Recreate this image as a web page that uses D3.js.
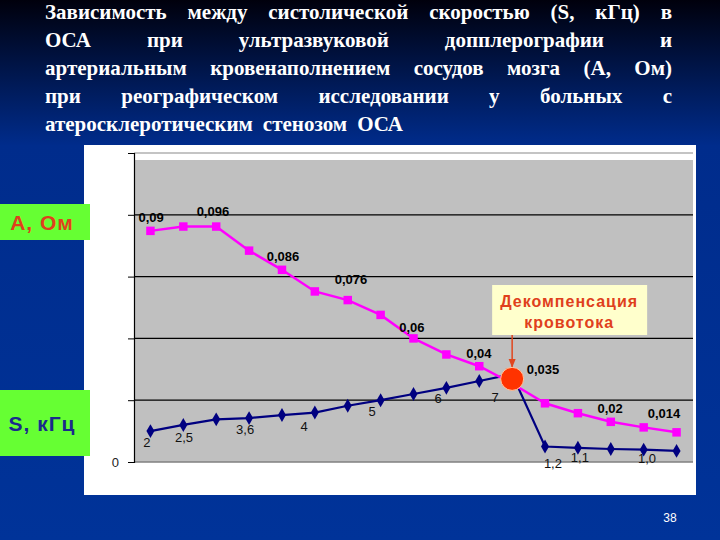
<!DOCTYPE html>
<html>
<head>
<meta charset="utf-8">
<script src="https://cdn.jsdelivr.net/npm/d3@7/dist/d3.min.js"></script>
<style>
	html, body { margin: 0; padding: 0; background: #003399; }
	svg { display: block; }
	.title text { font-family: 'Liberation Serif', 'DejaVu Serif', 'Times New Roman', Times, 'Noto Serif', serif; font-weight: bold; font-size: 21px; }
</style>
</head>
<body>
<div id="chart"></div>
<script>
var titleLines = [
	'Зависимость между систолической скоростью (S, кГц) в',
	'ОСА при ультразвуковой допплерографии и',
	'артериальным кровенаполнением сосудов мозга (А, Ом)',
	'при реографическом исследовании у больных с',
	'атеросклеротическим стенозом ОСА'
];

var categories = ['1', '2', '3', '4', '5', '6', '7', '8', '9', '10', '11', '12', '13', '14', '15', '16', '17'];

// А, Ом (magenta) and S, кГц (navy) in grid units
var arterialA = [3.74, 3.81, 3.81, 3.42, 3.11, 2.76, 2.62, 2.38, 2.0, 1.74, 1.55, 1.27, 0.95, 0.79, 0.65, 0.56, 0.48];
var velocityS = [0.50, 0.60, 0.69, 0.71, 0.76, 0.80, 0.91, 1.00, 1.10, 1.20, 1.31, 1.42, 0.25, 0.23, 0.21, 0.20, 0.18];

// data labels: [point index, value, text]
var labelsA = [
	[0.02, 3.96, '0,09'], [1.9, 4.06, '0,096'], [4.03, 3.32, '0,086'], [6.1, 2.96, '0,076'],
	[7.95, 2.17, '0,06'], [9.99, 1.76, '0,04'], [11.94, 1.5, '0,035'], [13.98, 0.87, '0,02'],
	[15.62, 0.78, '0,014']
];
var labelsS = [
	[-0.11, 0.31, '2'], [1.02, 0.4, '2,5'], [2.88, 0.52, '3,6'], [4.67, 0.58, '4'],
	[6.74, 0.81, '5'], [8.75, 1.02, '6'], [10.48, 1.05, '7'], [12.24, -0.02, '1,2'],
	[13.06, 0.08, '1,1'], [15.1, 0.06, '1,0']
];

var crisisIndex = 11;
var calloutLines = ['Декомпенсация', 'кровотока'];
var seriesNames = ['А, Ом', 'S, кГц'];
var pageNumber = '38';

function justifyLine(g, text, x0, x1, y, last) {
	var words = text.split(' ');
	var nodes = words.map(w => g.append('text').attr('y', y).text(w));
	var widths = nodes.map(n => n.node().getComputedTextLength());
	var gap = last ? 10 : (x1 - x0 - d3.sum(widths)) / (words.length - 1);
	var cx = x0;
	nodes.forEach((n, i) => { n.attr('x', cx); cx += widths[i] + gap; });
}

function drawChart() {
	var width = 720,
	    height = 540,
	    plot = {left: 134, right: 693, top: 153, bottom: 462};

	var svg = d3.select('#chart').append('svg')
		.attr('width', width)
		.attr('height', height);

	var defs = svg.append('defs');
	var grad = defs.append('linearGradient').attr('id', 'bg')
		.attr('x1', 0).attr('y1', 0).attr('x2', 0).attr('y2', 1);
	grad.append('stop').attr('offset', '0%').attr('stop-color', '#00000c');
	grad.append('stop').attr('offset', '12%').attr('stop-color', '#001446');
	grad.append('stop').attr('offset', '27%').attr('stop-color', '#002c8c');
	grad.append('stop').attr('offset', '100%').attr('stop-color', '#003399');

	defs.append('marker').attr('id', 'arrow')
		.attr('viewBox', '0 0 10 10').attr('refX', 9).attr('refY', 5)
		.attr('markerWidth', 6).attr('markerHeight', 6).attr('orient', 'auto')
		.append('path').attr('d', 'M0,1L10,5L0,9z').attr('fill', '#e0461e');

	svg.append('rect').attr('width', width).attr('height', height).attr('fill', 'url(#bg)');

	// title, justified like the slide
	var title = svg.append('g').attr('class', 'title').attr('fill', '#fff');
	titleLines.forEach((line, i) => {
		justifyLine(title, line, 45, 672, 19 + i * 28, i === titleLines.length - 1);
	});

	// chart panel
	svg.append('rect').attr('x', 84).attr('y', 145).attr('width', 612).attr('height', 350).attr('fill', '#fff');
	svg.append('rect')
		.attr('x', plot.left).attr('y', 160)
		.attr('width', plot.right - plot.left).attr('height', plot.bottom - 160)
		.attr('fill', '#c0c0c0');

	var x = d3.scalePoint().domain(categories).range([plot.left, plot.right]).padding(0.5);
	var xAt = d3.scaleLinear().domain([0, categories.length - 1])
		.range([x(categories[0]), x(categories[categories.length - 1])]);
	var y = d3.scaleLinear().domain([0, 5]).range([plot.bottom, plot.top]);

	// gridlines
	svg.append('g').selectAll('line').data(y.ticks(5).filter(d => d > 0))
		.enter().append('line')
		.attr('x1', plot.left).attr('x2', plot.right)
		.attr('y1', d => y(d)).attr('y2', d => y(d))
		.attr('stroke', d => d === 5 ? '#8a8a8a' : '#000')
		.attr('stroke-width', 1.2);

	svg.append('line')
		.attr('x1', plot.left).attr('x2', plot.right)
		.attr('y1', plot.bottom).attr('y2', plot.bottom)
		.attr('stroke', '#808080').attr('stroke-width', 1.5);

	var yAxis = svg.append('g')
		.attr('transform', `translate(${plot.left},0)`)
		.call(d3.axisLeft(y).ticks(5).tickSize(6).tickPadding(9).tickFormat(d => d === 0 ? '0' : ''));
	yAxis.select('.domain').attr('stroke', '#000').attr('stroke-width', 1.2);
	yAxis.selectAll('.tick line').attr('stroke', '#000');
	yAxis.selectAll('.tick text')
		.style('font-family', 'Arial, "Liberation Sans", sans-serif')
		.style('font-size', '13px').attr('fill', '#222');

	var line = d3.line().x((d, i) => x(categories[i])).y(d => y(d));

	// S series
	svg.append('path').datum(velocityS)
		.attr('d', line).attr('fill', 'none')
		.attr('stroke', '#000080').attr('stroke-width', 2.2);
	svg.append('g').selectAll('path').data(velocityS)
		.enter().append('path')
		.attr('transform', (d, i) => `translate(${x(categories[i])},${y(d)})`)
		.attr('d', d3.symbol().type(d3.symbolDiamond).size(56))
		.attr('fill', '#000080');

	// A series
	svg.append('path').datum(arterialA)
		.attr('d', line).attr('fill', 'none')
		.attr('stroke', '#ff00ff').attr('stroke-width', 2.5);
	svg.append('g').selectAll('path').data(arterialA)
		.enter().append('path')
		.attr('transform', (d, i) => `translate(${x(categories[i])},${y(d)})`)
		.attr('d', d3.symbol().type(d3.symbolSquare).size(72))
		.attr('fill', '#ff00ff');

	// data labels
	svg.append('g').selectAll('text').data(labelsA)
		.enter().append('text')
		.attr('x', d => xAt(d[0])).attr('y', d => y(d[1]))
		.attr('text-anchor', 'middle').attr('dominant-baseline', 'central')
		.style('font-family', 'Arial, "Liberation Sans", sans-serif')
		.style('font-size', '13px').style('font-weight', 'bold')
		.attr('fill', '#000')
		.text(d => d[2]);
	svg.append('g').selectAll('text').data(labelsS)
		.enter().append('text')
		.attr('x', d => xAt(d[0])).attr('y', d => y(d[1]))
		.attr('text-anchor', 'middle').attr('dominant-baseline', 'central')
		.style('font-family', 'Arial, "Liberation Sans", sans-serif')
		.style('font-size', '13px')
		.attr('fill', '#111')
		.text(d => d[2]);

	// decompensation point and callout
	var cx = x(categories[crisisIndex]),
	    cy = y((arterialA[crisisIndex] + velocityS[crisisIndex]) / 2);

	svg.append('rect')
		.attr('x', cx - 20).attr('y', 285).attr('width', 155).attr('height', 50)
		.attr('fill', '#ffffcc');
	svg.append('g').selectAll('text').data(calloutLines)
		.enter().append('text')
		.attr('x', cx + 57).attr('y', (d, i) => 307 + i * 21)
		.attr('text-anchor', 'middle')
		.style('font-family', 'Arial, "Liberation Sans", sans-serif')
		.style('font-size', '16px').style('font-weight', 'bold')
		.style('letter-spacing', '1px')
		.attr('fill', '#e0401c')
		.text(d => d);
	svg.append('line')
		.attr('x1', cx).attr('x2', cx)
		.attr('y1', 335).attr('y2', cy - 12)
		.attr('stroke', '#e0461e').attr('stroke-width', 1.5)
		.attr('marker-end', 'url(#arrow)');
	svg.append('circle')
		.attr('cx', cx).attr('cy', cy).attr('r', 11.5)
		.attr('fill', '#ff3300').attr('stroke', '#ffc8a0').attr('stroke-width', 1);

	// series name tags
	var tags = [
		{name: seriesNames[0], y: 204, h: 36, color: '#e0401c'},
		{name: seriesNames[1], y: 390, h: 66, color: '#1a2a8c'}
	];
	var tag = svg.append('g').selectAll('g').data(tags).enter().append('g');
	tag.append('rect')
		.attr('x', 0).attr('y', d => d.y).attr('width', 90).attr('height', d => d.h)
		.attr('fill', '#66ff33');
	tag.append('text')
		.attr('x', 42).attr('y', d => d.y + d.h / 2)
		.attr('text-anchor', 'middle').attr('dominant-baseline', 'central')
		.style('font-family', 'Arial, "Liberation Sans", sans-serif')
		.style('font-size', '21px').style('font-weight', 'bold')
		.style('letter-spacing', '1px')
		.attr('fill', d => d.color)
		.text(d => d.name);

	svg.append('text')
		.attr('x', 670).attr('y', 518)
		.attr('text-anchor', 'middle').attr('dominant-baseline', 'central')
		.style('font-family', 'Arial, "Liberation Sans", sans-serif')
		.style('font-size', '12px')
		.attr('fill', '#fff')
		.text(pageNumber);
}

drawChart();
</script>
</body>
</html>
